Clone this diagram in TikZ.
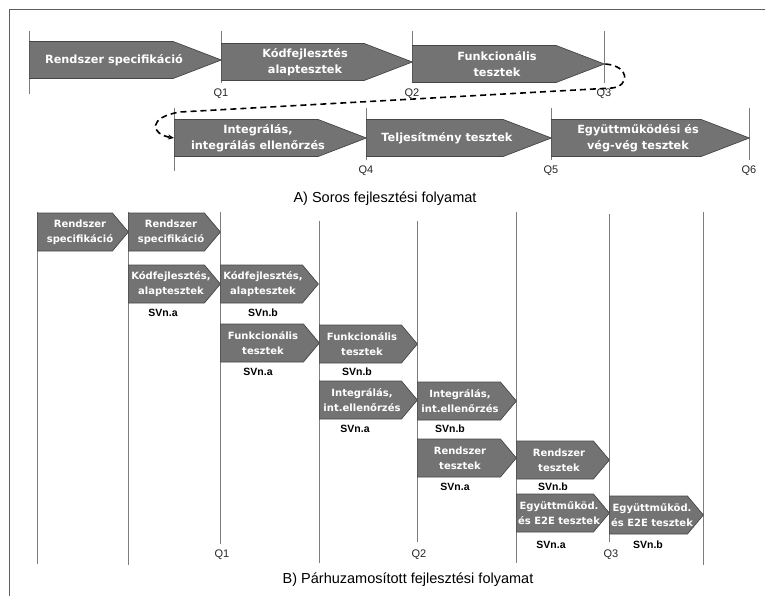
\documentclass[tikz,border=0pt]{standalone}
\usepackage{fontspec}
\setmainfont{Liberation Sans}
\newfontfamily\boxfont{DejaVu Sans}
\usepackage{tikz}
\usetikzlibrary{shapes.symbols, arrows.meta, positioning, calc}
\definecolor{phasegray}{RGB}{115,115,115}
\definecolor{phaseedge}{RGB}{70,70,70}
\definecolor{tickgray}{RGB}{125,125,125}
\definecolor{framegray}{RGB}{95,95,95}

\tikzset{
  phaseA/.style={signal, signal to=east, signal pointer angle=42,
    fill=phasegray, draw=phaseedge, line width=0.7pt,
    inner sep=0pt, minimum height=37pt, anchor=west},
  phaseB/.style={signal, signal to=east, signal pointer angle=100,
    fill=phasegray, draw=phaseedge, line width=0.7pt,
    inner sep=0pt, minimum height=38pt, anchor=west},
  textA/.style={text=white, align=center, inner sep=0pt,
    font=\boxfont\bfseries\fontsize{11.3}{16}\selectfont},
  textB/.style={text=white, align=center, inner sep=0pt,
    font=\boxfont\bfseries\fontsize{10}{15}\selectfont},
  qtick/.style={draw=tickgray, line width=1pt},
  qlabel/.style={font=\fontsize{11}{13}\selectfont, text=black!85},
  svlabel/.style={font=\bfseries\fontsize{10.5}{12}\selectfont},
  parttitle/.style={font=\fontsize{14.5}{17}\selectfont}
}

\begin{document}
\begin{tikzpicture}[x=1pt, y=-1pt]
    \useasboundingbox (0,0) rectangle (765,596);
    % frame
    \draw[framegray, line width=1pt] (9.5,596) -- (9.5,9.5) -- (765,9.5);

    % A) serial process, ticks
    \draw[qtick] (29,31) -- (29,94);
    \foreach \x/\q in {221/Q1, 412/Q2, 604/Q3} {
        \draw[qtick] (\x,31) -- (\x,83);
        \node[qlabel] at (\x,94) {\q};
    }
    \draw[qtick] (174,108) -- (174,171);
    \foreach \x/\q in {366/Q4, 551/Q5, 749/Q6} {
        \draw[qtick] (\x,108) -- (\x,160);
        \node[qlabel] at (\x,171) {\q};
    }

    % A) phases
    \node[phaseA, minimum width=192pt] (specA) at (29,60) {};
    \node[phaseA, minimum width=191pt] (kodA) at (221,62) {};
    \node[phaseA, minimum width=192pt] (funkA) at (412,64) {};
    \node[phaseA, minimum width=192pt] (intA) at (174,138) {};
    \node[phaseA, minimum width=185pt] (teljA) at (366,138) {};
    \node[phaseA, minimum width=198pt] (egyA) at (551,138) {};
    \node[textA] (specAt) at ($(specA.west)+(85,0)$) {Rendszer specifikáció};
    \node[textA] (kodAt) at ($(kodA.west)+(84,0)$) {Kódfejlesztés\\alaptesztek};
    \node[textA] (funkAt) at ($(funkA.west)+(85,0)$) {Funkcionális\\tesztek};
    \node[textA] (intAt) at ($(intA.west)+(84,0)$) {Integrálás,\\integrálás ellenőrzés};
    \node[textA] (teljAt) at ($(teljA.west)+(81,0)$) {Teljesítmény tesztek};
    \node[textA] (egyAt) at ($(egyA.west)+(87,0)$) {Együttműködési és\\vég-vég tesztek};

    % wrap to second row
    \draw[line width=1.6pt, dash pattern=on 6pt off 4pt, -{Stealth[length=6pt, width=5pt]}]
        (funkA.east) .. controls (630,66) and (630,86) .. (612,88)
        -- (180,112) .. controls (148,117) and (150,134) .. (intA.west);

    \node[parttitle] (titleA) at (385,199) {A) Soros fejlesztési folyamat};

    % B) parallel process, columns
    \foreach \x/\t/\b in {37/212/564, 128/212/565, 319/221/563, 516/212/563, 703/212/565} {
        \draw[qtick] (\x,\t) -- (\x,\b);
    }
    \foreach \x/\t/\b/\q in {220/212/544/Q1, 417/221/542/Q2, 609/214/542/Q3} {
        \draw[qtick] (\x,\t) -- (\x,\b);
        \node[qlabel] at (\x+2,555) {\q};
    }

    % B) phases
    \node[phaseB, minimum width=91pt] (spec1) at (37,232) {};
    \node[phaseB, minimum width=92pt] (spec2) at (128,232) {};
    \node[phaseB, minimum width=92pt] (kod1) at (128,284) {};
    \node[phaseB, minimum width=98pt] (kod2) at (220,284) {};
    \node[phaseB, minimum width=99pt] (funk1) at (220,343) {};
    \node[phaseB, minimum width=98pt] (funk2) at (319,344) {};
    \node[phaseB, minimum width=98pt] (int1) at (319,400) {};
    \node[phaseB, minimum width=99pt] (int2) at (417,401) {};
    \node[phaseB, minimum width=99pt] (rt1) at (417,458) {};
    \node[phaseB, minimum width=93pt] (rt2) at (516,460) {};
    \node[phaseB, minimum width=93pt] (e2e1) at (516,513) {};
    \node[phaseB, minimum width=94pt] (e2e2) at (609,515) {};
    \foreach \n/\t in {spec1/{Rendszer\\specifikáció}, spec2/{Rendszer\\specifikáció},
        kod1/{Kódfejlesztés,\\alaptesztek}, kod2/{Kódfejlesztés,\\alaptesztek},
        funk1/{Funkcionális\\tesztek}, funk2/{Funkcionális\\tesztek},
        int1/{Integrálás,\\int.ellenőrzés}, int2/{Integrálás,\\int.ellenőrzés},
        rt1/{Rendszer\\tesztek}, rt2/{Rendszer\\tesztek},
        e2e1/{Együttműköd.\\és E2E tesztek}, e2e2/{Együttműköd.\\és E2E tesztek}} {
        \node[textB] (\n t) at ($(\n.west)+(43,0)$) {\t};
    }

    % B) increments
    \node[svlabel] at (163,313) {SVn.a};
    \node[svlabel] at (263,313) {SVn.b};
    \node[svlabel] at (258,372) {SVn.a};
    \node[svlabel] at (357,372) {SVn.b};
    \node[svlabel] at (355,429) {SVn.a};
    \node[svlabel] at (450,429) {SVn.b};
    \node[svlabel] at (455,487) {SVn.a};
    \node[svlabel] at (553,487) {SVn.b};
    \node[svlabel] at (551,545) {SVn.a};
    \node[svlabel] at (648,545) {SVn.b};

    \node[parttitle] (titleB) at (408,580) {B) Párhuzamosított fejlesztési folyamat};
\end{tikzpicture}
\end{document}
